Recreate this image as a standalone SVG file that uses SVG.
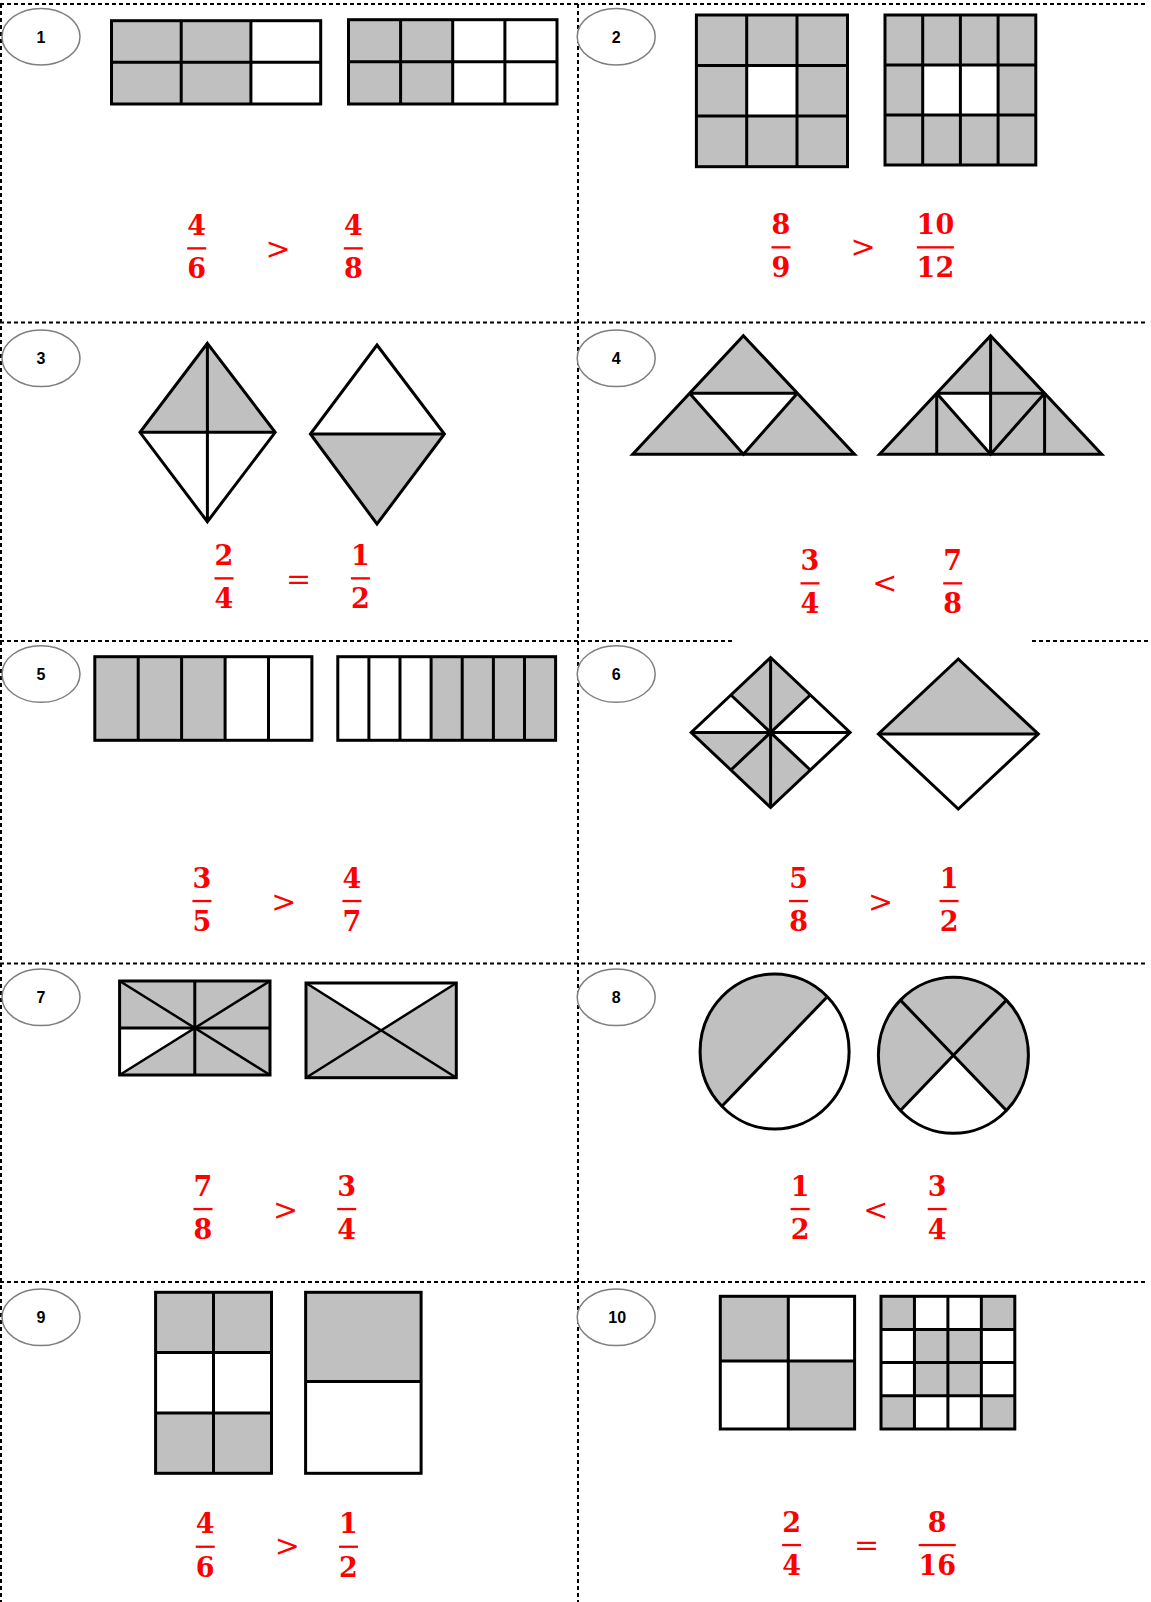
<svg xmlns="http://www.w3.org/2000/svg" width="1151" height="1602" viewBox="0 0 1151 1602">
<style>
.bg{fill:#ffffff}
.dash{stroke:#000;stroke-width:2;stroke-dasharray:4 3;fill:none}
.lbl{fill:#fff;stroke:#7f7f7f;stroke-width:1.5}
.lt{font-family:"Liberation Sans",Arial,sans-serif;font-weight:bold;font-size:16px;fill:#000;text-anchor:middle}
.g{fill:#c0c0c0}
.w{fill:#fff}
.ln{stroke:#000;stroke-width:3;fill:none;stroke-linejoin:miter}
.ln2{stroke:#000;stroke-width:2.5;fill:none}
.fr{font-family:"DejaVu Serif","Liberation Serif",serif;font-weight:bold;font-size:27px;fill:#ff0000;text-anchor:middle}
.op{font-family:"DejaVu Serif","Liberation Serif",serif;font-size:30px;fill:#ff0000;text-anchor:middle}
.bar{fill:#ff0000}
</style>
<rect class="bg" x="0" y="0" width="1151" height="1602"/>

<g id="grid">
<path class="dash" d="M0,4 H1148"/>
<path class="dash" d="M1,4 V1602"/>
<path class="dash" d="M578,4 V1602"/>
<path class="dash" d="M0,322.5 H1148"/>
<path class="dash" d="M0,641 H732 M1032,641 H1148"/>
<path class="dash" d="M0,963.5 H1148"/>
<path class="dash" d="M0,1282 H1148"/>
</g>

<!-- Panel 1 -->
<g id="p1">
<ellipse class="lbl" cx="41" cy="36.7" rx="39" ry="28.3"/>
<text class="lt" x="41" y="42.7">1</text>
<rect class="w" x="111.5" y="20.7" width="209.2" height="83.3"/>
<rect class="g" x="111.5" y="20.7" width="139.4" height="83.3"/>
<rect class="ln" x="111.5" y="20.7" width="209.2" height="83.3"/>
<path class="ln" d="M181.2,20.7 V104 M250.9,20.7 V104 M111.5,62.3 H320.7"/>
<rect class="w" x="348.5" y="19.7" width="208.5" height="84.3"/>
<rect class="g" x="348.5" y="19.7" width="104.2" height="84.3"/>
<rect class="ln" x="348.5" y="19.7" width="208.5" height="84.3"/>
<path class="ln" d="M400.6,19.7 V104 M452.7,19.7 V104 M504.9,19.7 V104 M348.5,61.8 H557"/>
<text class="fr" x="196.7" y="235">4</text><rect class="bar" x="187.2" y="247.2" width="19" height="2.3"/><text class="fr" x="196.7" y="278.3">6</text>
<text class="op" x="278" y="259">&gt;</text>
<text class="fr" x="353.3" y="235">4</text><rect class="bar" x="343.8" y="247.2" width="19" height="2.3"/><text class="fr" x="353.3" y="278.3">8</text>
</g>

<!-- Panel 2 -->
<g id="p2">
<ellipse class="lbl" cx="616.2" cy="36.7" rx="39" ry="28.3"/>
<text class="lt" x="616.2" y="42.7">2</text>
<rect class="g" x="696.4" y="15" width="151.1" height="151.7"/>
<rect class="w" x="746.7" y="65.6" width="50.3" height="50.5"/>
<rect class="ln" x="696.4" y="15" width="151.1" height="151.7"/>
<path class="ln" d="M746.7,15 V166.7 M797,15 V166.7 M696.4,65.6 H847.5 M696.4,116.1 H847.5"/>
<rect class="g" x="885" y="15" width="150.8" height="150"/>
<rect class="w" x="922.7" y="65" width="75.4" height="50"/>
<rect class="ln" x="885" y="15" width="150.8" height="150"/>
<path class="ln" d="M922.7,15 V165 M960.4,15 V165 M998.1,15 V165 M885,65 H1035.8 M885,115 H1035.8"/>
<text class="fr" x="781" y="234">8</text><rect class="bar" x="771.5" y="246.2" width="19" height="2.3"/><text class="fr" x="781" y="277.3">9</text>
<text class="op" x="863" y="257">&gt;</text>
<text class="fr" x="935.4" y="234">10</text><rect class="bar" x="916.9" y="246.2" width="37" height="2.3"/><text class="fr" x="935.4" y="277.3">12</text>
</g>

<!-- Panel 3 -->
<g id="p3">
<ellipse class="lbl" cx="41" cy="358.3" rx="39" ry="28.3"/>
<text class="lt" x="41" y="364.3">3</text>
<polygon class="g" points="207.4,343.3 140,432.3 275.2,432.3"/>
<polygon class="w" points="140,432.3 207.4,521.7 275.2,432.3"/>
<polygon class="ln" points="207.4,343.3 275.2,432.3 207.4,521.7 140,432.3"/>
<path class="ln" d="M207.4,343.3 V521.7 M140,432.3 H275.2"/>
<polygon class="w" points="377,345 310.4,434 444.4,434"/>
<polygon class="g" points="310.4,434 377,524 444.4,434"/>
<polygon class="ln" points="377,345 444.4,434 377,524 310.4,434"/>
<path class="ln" d="M310.4,434 H444.4"/>
<text class="fr" x="224" y="565">2</text><rect class="bar" x="214.5" y="577.2" width="19" height="2.3"/><text class="fr" x="224" y="608.3">4</text>
<text class="op" x="298.5" y="589">=</text>
<text class="fr" x="360.4" y="565">1</text><rect class="bar" x="350.9" y="577.2" width="19" height="2.3"/><text class="fr" x="360.4" y="608.3">2</text>
</g>

<!-- Panel 4 -->
<g id="p4">
<ellipse class="lbl" cx="616.2" cy="358.3" rx="39" ry="28.3"/>
<text class="lt" x="616.2" y="364.3">4</text>
<polygon class="g" points="743.4,335.7 632.7,454.3 854.5,454.3"/>
<polygon class="w" points="689.6,393.3 797.4,393.3 743.4,454.3"/>
<polygon class="ln" points="743.4,335.7 854.5,454.3 632.7,454.3"/>
<path class="ln" d="M689.6,393.3 H797.4 M689.6,393.3 L743.4,454.3 L797.4,393.3"/>
<polygon class="g" points="990.6,335.7 879.6,454.3 1101.7,454.3"/>
<polygon class="w" points="936.7,393.3 990.6,393.3 990.6,454.3"/>
<polygon class="ln" points="990.6,335.7 1101.7,454.3 879.6,454.3"/>
<path class="ln" d="M936.7,393.3 H1044.6 M936.7,393.3 L990.6,454.3 L1044.6,393.3 M990.6,335.7 V454.3 M936.7,393.3 V454.3 M1044.6,393.3 V454.3"/>
<text class="fr" x="810" y="570">3</text><rect class="bar" x="800.5" y="582.2" width="19" height="2.3"/><text class="fr" x="810" y="613.3">4</text>
<text class="op" x="884.8" y="593">&lt;</text>
<text class="fr" x="952.7" y="570">7</text><rect class="bar" x="943.2" y="582.2" width="19" height="2.3"/><text class="fr" x="952.7" y="613.3">8</text>
</g>

<!-- Panel 5 -->
<g id="p5">
<ellipse class="lbl" cx="41" cy="674" rx="39" ry="28.3"/>
<text class="lt" x="41" y="680">5</text>
<rect class="w" x="94.8" y="656.7" width="217.1" height="83.6"/>
<rect class="g" x="94.8" y="656.7" width="130.3" height="83.6"/>
<rect class="ln" x="94.8" y="656.7" width="217.1" height="83.6"/>
<path class="ln" d="M138.2,656.7 V740.3 M181.6,656.7 V740.3 M225.1,656.7 V740.3 M268.5,656.7 V740.3"/>
<rect class="w" x="337.8" y="656.7" width="217.8" height="83.6"/>
<rect class="g" x="431.1" y="656.7" width="124.5" height="83.6"/>
<rect class="ln" x="337.8" y="656.7" width="217.8" height="83.6"/>
<path class="ln" d="M368.9,656.7 V740.3 M400,656.7 V740.3 M431.1,656.7 V740.3 M462.2,656.7 V740.3 M493.4,656.7 V740.3 M524.5,656.7 V740.3"/>
<text class="fr" x="201.9" y="887.7">3</text><rect class="bar" x="192.4" y="899.9" width="19" height="2.3"/><text class="fr" x="201.9" y="931">5</text>
<text class="op" x="283.7" y="912">&gt;</text>
<text class="fr" x="351.9" y="887.7">4</text><rect class="bar" x="342.4" y="899.9" width="19" height="2.3"/><text class="fr" x="351.9" y="931">7</text>
</g>

<!-- Panel 6 -->
<g id="p6">
<ellipse class="lbl" cx="616.2" cy="674" rx="39" ry="28.3"/>
<text class="lt" x="616.2" y="680">6</text>
<polygon class="w" points="770.6,657.5 850.1,732.5 770.6,807.5 691.2,732.5"/>
<polygon class="g" points="770.6,732.5 730.9,695 770.6,657.5 810.3,695"/>
<polygon class="g" points="770.6,732.5 691.2,732.5 730.9,770 770.6,807.5 810.3,770"/>
<polygon class="ln" points="770.6,657.5 850.1,732.5 770.6,807.5 691.2,732.5"/>
<path class="ln" d="M691.2,732.5 H850.1 M770.6,657.5 V807.5 M730.9,695 L810.3,770 M810.3,695 L730.9,770"/>
<polygon class="g" points="958.3,659 1038.3,734 878.4,734"/>
<polygon class="w" points="878.4,734 958.3,809 1038.3,734"/>
<polygon class="ln" points="958.3,659 1038.3,734 958.3,809 878.4,734"/>
<path class="ln" d="M878.4,734 H1038.3"/>
<text class="fr" x="798.6" y="887.7">5</text><rect class="bar" x="789.1" y="899.9" width="19" height="2.3"/><text class="fr" x="798.6" y="931">8</text>
<text class="op" x="880.6" y="912">&gt;</text>
<text class="fr" x="949.1" y="887.7">1</text><rect class="bar" x="939.6" y="899.9" width="19" height="2.3"/><text class="fr" x="949.1" y="931">2</text>
</g>

<!-- Panel 7 -->
<g id="p7">
<ellipse class="lbl" cx="41" cy="997.3" rx="39" ry="28.3"/>
<text class="lt" x="41" y="1003.3">7</text>
<rect class="g" x="119.6" y="981" width="150.4" height="94"/>
<polygon class="w" points="119.6,1028 194.8,1028 119.6,1075"/>
<path class="ln2" d="M119.6,981 L270,1075 M270,981 L119.6,1075"/>
<path class="ln" d="M194.8,981 V1075 M119.6,1028 H270"/>
<rect class="ln" x="119.6" y="981" width="150.4" height="94"/>
<rect class="g" x="306" y="983" width="150.3" height="94.7"/>
<polygon class="w" points="306,983 456.3,983 381.2,1030.3"/>
<path class="ln2" d="M306,983 L456.3,1077.7 M456.3,983 L306,1077.7"/>
<rect class="ln" x="306" y="983" width="150.3" height="94.7"/>
<text class="fr" x="203" y="1195.7">7</text><rect class="bar" x="193.5" y="1207.9" width="19" height="2.3"/><text class="fr" x="203" y="1239">8</text>
<text class="op" x="285.6" y="1219.5">&gt;</text>
<text class="fr" x="346.7" y="1195.7">3</text><rect class="bar" x="337.2" y="1207.9" width="19" height="2.3"/><text class="fr" x="346.7" y="1239">4</text>
</g>

<!-- Panel 8 -->
<g id="p8">
<ellipse class="lbl" cx="616.2" cy="997.3" rx="39" ry="28.3"/>
<text class="lt" x="616.2" y="1003.3">8</text>
<ellipse class="w" cx="774.6" cy="1051.5" rx="74.5" ry="77.5"/>
<path class="g" d="M827.3,996.7 A74.5,77.5 0 0 0 774.6,974 A74.5,77.5 0 0 0 721.9,1106.3 Z"/>
<ellipse class="ln" cx="774.6" cy="1051.5" rx="74.5" ry="77.5"/>
<path class="ln" d="M827.3,996.7 L721.9,1106.3"/>
<ellipse class="g" cx="953.4" cy="1055.3" rx="75" ry="78"/>
<path class="w" d="M953.4,1055.3 L1006.4,1110.5 A75,78 0 0 1 900.4,1110.5 Z"/>
<ellipse class="ln" cx="953.4" cy="1055.3" rx="75" ry="78"/>
<path class="ln" d="M900.4,1000.1 L1006.4,1110.5 M1006.4,1000.1 L900.4,1110.5"/>
<text class="fr" x="800.1" y="1195.7">1</text><rect class="bar" x="790.6" y="1207.9" width="19" height="2.3"/><text class="fr" x="800.1" y="1239">2</text>
<text class="op" x="875.7" y="1219.5">&lt;</text>
<text class="fr" x="937.2" y="1195.7">3</text><rect class="bar" x="927.7" y="1207.9" width="19" height="2.3"/><text class="fr" x="937.2" y="1239">4</text>
</g>

<!-- Panel 9 -->
<g id="p9">
<ellipse class="lbl" cx="41" cy="1317.3" rx="39" ry="28.3"/>
<text class="lt" x="41" y="1323.3">9</text>
<rect class="g" x="155.6" y="1292.3" width="115.9" height="181"/>
<rect class="w" x="155.6" y="1352.6" width="115.9" height="60.3"/>
<rect class="ln" x="155.6" y="1292.3" width="115.9" height="181"/>
<path class="ln" d="M213.5,1292.3 V1473.3 M155.6,1352.6 H271.5 M155.6,1412.9 H271.5"/>
<rect class="w" x="305.6" y="1292.3" width="115.5" height="181"/>
<rect class="g" x="305.6" y="1292.3" width="115.5" height="89.2"/>
<rect class="ln" x="305.6" y="1292.3" width="115.5" height="181"/>
<path class="ln" d="M305.6,1381.5 H421.1"/>
<text class="fr" x="205.2" y="1533.4">4</text><rect class="bar" x="195.7" y="1545.6" width="19" height="2.3"/><text class="fr" x="205.2" y="1576.7">6</text>
<text class="op" x="287.4" y="1556.3">&gt;</text>
<text class="fr" x="348.5" y="1533.4">1</text><rect class="bar" x="339" y="1545.6" width="19" height="2.3"/><text class="fr" x="348.5" y="1576.7">2</text>
</g>

<!-- Panel 10 -->
<g id="p10">
<ellipse class="lbl" cx="616.2" cy="1317.3" rx="39" ry="28.3"/>
<text class="lt" x="617.2" y="1323.3">10</text>
<rect class="w" x="720.3" y="1296.3" width="134.3" height="132.7"/>
<rect class="g" x="720.3" y="1296.3" width="68" height="64.7"/>
<rect class="g" x="788.3" y="1361" width="66.3" height="68"/>
<rect class="ln" x="720.3" y="1296.3" width="134.3" height="132.7"/>
<path class="ln" d="M788.3,1296.3 V1429 M720.3,1361 H854.6"/>
<rect class="w" x="881" y="1296.3" width="133.8" height="132.7"/>
<rect class="g" x="881" y="1296.3" width="33.45" height="33.2"/>
<rect class="g" x="981.35" y="1296.3" width="33.45" height="33.2"/>
<rect class="g" x="914.45" y="1329.5" width="66.9" height="66.3"/>
<rect class="g" x="881" y="1395.8" width="33.45" height="33.2"/>
<rect class="g" x="981.35" y="1395.8" width="33.45" height="33.2"/>
<rect class="ln" x="881" y="1296.3" width="133.8" height="132.7"/>
<path class="ln" d="M914.45,1296.3 V1429 M947.9,1296.3 V1429 M981.35,1296.3 V1429 M881,1329.5 H1014.8 M881,1362.6 H1014.8 M881,1395.8 H1014.8"/>
<text class="fr" x="791.6" y="1531.7">2</text><rect class="bar" x="782.1" y="1543.9" width="19" height="2.3"/><text class="fr" x="791.6" y="1575">4</text>
<text class="op" x="866.6" y="1555">=</text>
<text class="fr" x="937.2" y="1531.7">8</text><rect class="bar" x="918.7" y="1543.9" width="37" height="2.3"/><text class="fr" x="937.2" y="1575">16</text>
</g>
</svg>
